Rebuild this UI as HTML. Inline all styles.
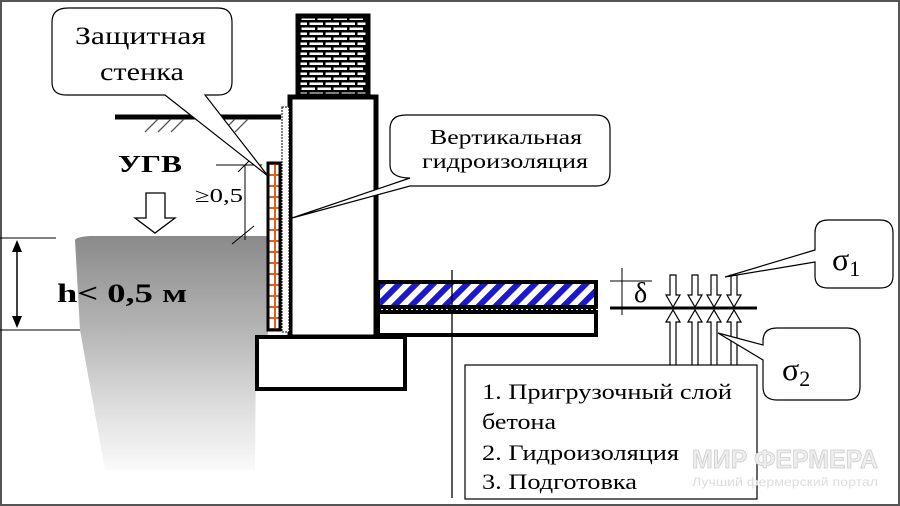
<!DOCTYPE html>
<html><head><meta charset="utf-8"><style>
html,body{margin:0;padding:0;background:#fff}
svg{display:block}
text{font-family:"Liberation Serif",serif}
</style></head><body>
<svg width="900" height="506" viewBox="0 0 900 506" xmlns="http://www.w3.org/2000/svg">
<defs>
<pattern id="brick" width="16" height="10" patternUnits="userSpaceOnUse">
<rect width="16" height="10" fill="#fff"/>
<rect x="0" y="0" width="16" height="2.5" fill="#000"/>
<rect x="0" y="5" width="16" height="2.5" fill="#000"/>
<rect x="3" y="0" width="2.5" height="5" fill="#000"/>
<rect x="11" y="5" width="2.5" height="5" fill="#000"/>
</pattern>
<pattern id="hatch" width="12" height="12" patternUnits="userSpaceOnUse" patternTransform="rotate(45)">
<rect width="12" height="12" fill="#fff"/>
<rect x="0" y="0" width="6" height="12" fill="#1a1acc"/>
</pattern>
<pattern id="orange" width="10" height="11" patternUnits="userSpaceOnUse">
<rect width="10" height="11" fill="#fff"/>
<rect x="0" y="9" width="10" height="2" fill="#e06020"/>
<rect x="4" y="0" width="2" height="11" fill="#e06020"/>
</pattern>
<linearGradient id="soil" x1="0" y1="0" x2="0" y2="1">
<stop offset="0" stop-color="#8a8a8a"/>
<stop offset="0.4" stop-color="#b5b5b5"/>
<stop offset="0.75" stop-color="#e0e0e0"/>
<stop offset="1" stop-color="#fafafa"/>
</linearGradient>
</defs>
<rect x="1" y="1" width="898" height="504" fill="#fff" stroke="#555" stroke-width="2"/>
<path d="M75,240 Q76,237 90,236 L268,236 L268,335 L256,340 L255,470 L105,470 L80,330 Z" fill="url(#soil)"/>
<line x1="0" y1="238" x2="56" y2="238" stroke="#000"/>
<line x1="0" y1="330" x2="80" y2="330" stroke="#000"/>
<line x1="17" y1="244" x2="17" y2="324" stroke="#000" stroke-width="1.5"/>
<path d="M12,252 L17,240 L22,252 Z M12,316 L17,328 L22,316 Z" fill="#000"/>
<text x="57" y="302" font-size="26" font-weight="bold" textLength="130" lengthAdjust="spacingAndGlyphs">h&lt; 0,5 м</text>
<line x1="115" y1="117" x2="281" y2="117" stroke="#000" stroke-width="5"/>
<g stroke="#555" stroke-width="1.3">
<line x1="145" y1="132" x2="158" y2="119"/><line x1="158" y1="132" x2="171" y2="119"/><line x1="171" y1="132" x2="184" y2="119"/>
<line x1="222" y1="132" x2="235" y2="119"/><line x1="235" y1="132" x2="248" y2="119"/>
</g>
<text x="118" y="172" font-size="24" font-weight="bold" textLength="64" lengthAdjust="spacingAndGlyphs">УГВ</text>
<path d="M146,193 L165,193 L165,218 L175,218 L155,233 L135,218 L146,218 Z" fill="#fff" stroke="#000" stroke-width="1.3"/>
<line x1="216" y1="165" x2="262" y2="165" stroke="#000"/>
<line x1="245" y1="165" x2="245" y2="240" stroke="#000"/>
<line x1="238" y1="172" x2="252" y2="158" stroke="#000"/>
<line x1="232" y1="244" x2="254" y2="226" stroke="#000"/>
<text x="195" y="202" font-size="20" textLength="48" lengthAdjust="spacingAndGlyphs">≥0,5</text>
<rect x="298" y="16" width="70" height="80" fill="url(#brick)" stroke="#000" stroke-width="5"/>
<rect x="290" y="97" width="86" height="240" fill="#fff" stroke="#000" stroke-width="5"/>
<rect x="282" y="107" width="7" height="225" fill="#fff" stroke="#000" stroke-width="1" stroke-dasharray="2,1"/>
<rect x="268" y="163" width="12" height="167" fill="url(#orange)" stroke="#000" stroke-width="3"/>
<rect x="257" y="337" width="148" height="52" fill="#fff" stroke="#000" stroke-width="4"/>
<rect x="378" y="282" width="218" height="25" fill="url(#hatch)" stroke="#000" stroke-width="4"/>
<line x1="378" y1="310" x2="596" y2="310" stroke="#000" stroke-width="4" stroke-dasharray="3,2"/>
<rect x="378" y="312" width="218" height="23" fill="#fff" stroke="#000" stroke-width="4"/>
<line x1="452" y1="270" x2="452" y2="498" stroke="#000" stroke-width="1.3"/>
<line x1="610" y1="281" x2="652" y2="281" stroke="#000"/>
<line x1="622" y1="268" x2="622" y2="315" stroke="#000"/>
<line x1="610" y1="308" x2="757" y2="308" stroke="#000" stroke-width="3"/>
<text x="634" y="302" font-size="28">δ</text>
<g fill="#fff" stroke="#000" stroke-width="1.2">
<path d="M670,275 L676,275 L676,295 L680,295 L673,307 L666,295 L670,295 Z"/>
<path d="M692,275 L698,275 L698,295 L702,295 L695,307 L688,295 L692,295 Z"/>
<path d="M711,275 L717,275 L717,295 L721,295 L714,307 L707,295 L711,295 Z"/>
<path d="M731,275 L737,275 L737,295 L741,295 L734,307 L727,295 L731,295 Z"/>
<path d="M670,366 L676,366 L676,322 L680,322 L673,310 L666,322 L670,322 Z"/>
<path d="M692,366 L698,366 L698,322 L702,322 L695,310 L688,322 L692,322 Z"/>
<path d="M711,366 L717,366 L717,322 L721,322 L714,310 L707,322 L711,322 Z"/>
<path d="M731,366 L737,366 L737,322 L741,322 L734,310 L727,322 L731,322 Z"/>
</g>
<g fill="#fff" stroke="#000" stroke-width="1.2">
<path d="M68,8 L218,8 Q232,8 232,22 L232,82 Q232,95 218,95 L205,95 L268,176 L165,95 L66,95 Q52,95 52,82 L52,22 Q52,8 68,8 Z"/>
<path d="M406,115 L596,115 Q610,115 610,129 L610,172 Q610,186 596,186 L410,186 L292,218 L410,178 Q390,178 390,165 L390,129 Q390,115 406,115 Z"/>
<path d="M828,220 L880,220 Q893,220 893,233 L893,276 Q893,288 880,288 L828,288 Q815,288 815,276 L815,262 L725,277 L815,250 L815,233 Q815,220 828,220 Z"/>
<path d="M777,328 L847,328 Q860,328 860,341 L860,387 Q860,400 847,400 L777,400 Q763,400 763,387 L763,360 L718,333 L763,345 L763,341 Q763,328 777,328 Z"/>
</g>
<text x="75" y="44" font-size="25" textLength="131" lengthAdjust="spacingAndGlyphs">Защитная</text>
<text x="100" y="80" font-size="25" textLength="84" lengthAdjust="spacingAndGlyphs">стенка</text>
<text x="430" y="144" font-size="21" textLength="152" lengthAdjust="spacingAndGlyphs">Вертикальная</text>
<text x="422" y="168" font-size="21" textLength="166" lengthAdjust="spacingAndGlyphs">гидроизоляция</text>
<text x="832" y="270" font-size="32">σ<tspan font-size="22" dy="6">1</tspan></text>
<text x="782" y="380" font-size="32">σ<tspan font-size="22" dy="6">2</tspan></text>
<rect x="465" y="365" width="292" height="134" fill="#fff" stroke="#000" stroke-width="1.2"/>
<text x="482" y="399" font-size="22" textLength="250" lengthAdjust="spacingAndGlyphs">1. Пригрузочный слой</text>
<text x="482" y="429" font-size="22" textLength="74" lengthAdjust="spacingAndGlyphs">бетона</text>
<text x="482" y="460" font-size="22" textLength="197" lengthAdjust="spacingAndGlyphs">2. Гидроизоляция</text>
<text x="482" y="489" font-size="22" textLength="155" lengthAdjust="spacingAndGlyphs">3. Подготовка</text>
<text x="692" y="468" font-size="26" font-weight="bold" fill="#eee" stroke="#ccc" stroke-width="0.8" style="font-family:'Liberation Sans',sans-serif" textLength="186" lengthAdjust="spacingAndGlyphs">МИР ФЕРМЕРА</text>
<text x="692" y="486" font-size="12" fill="#ddd" style="font-family:'Liberation Sans',sans-serif" textLength="186" lengthAdjust="spacingAndGlyphs">Лучший фермерский портал</text>
</svg>
</body></html>
